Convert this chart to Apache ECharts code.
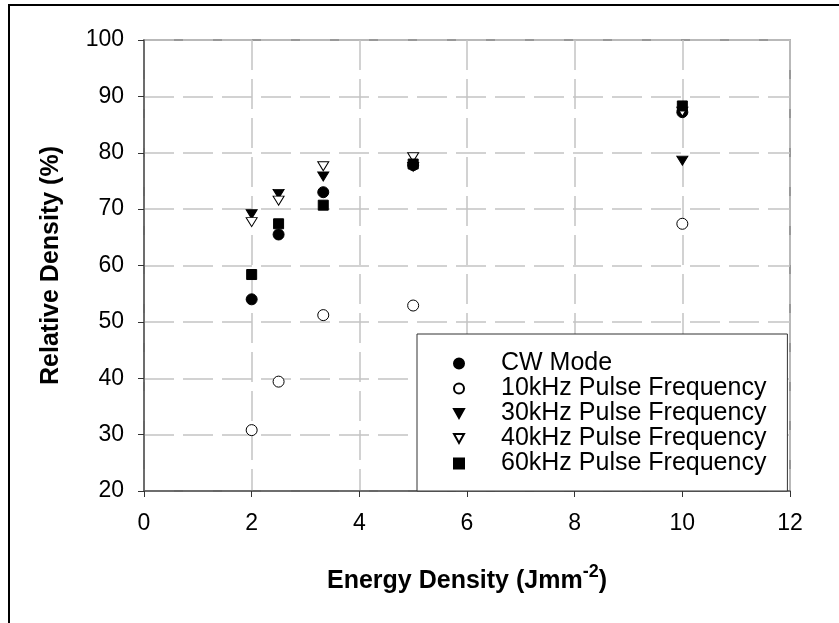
<!DOCTYPE html>
<html>
<head>
<meta charset="utf-8">
<script src="https://cdn.jsdelivr.net/npm/echarts@6/dist/echarts.min.js"></script>
<style>
  html, body { margin: 0; padding: 0; background: #fff; }
  #chart { width: 839px; height: 623px; }
</style>
</head>
<body>
<div id="chart"></div>
<script>
// energy density (x) and relative density (%) per mode
var energy = [2, 2.5, 3.33, 5, 10];
var cwMode = [54.0, 65.5, 73.0, 77.8, 87.2];
var f10 = [30.8, 39.4, 51.2, 52.9, 67.4];
var f30 = [69.1, 72.7, 75.8, 77.5, 78.6];
var f40 = [67.7, 71.5, 77.6, 79.2, 87.3];
var f60 = [58.4, 67.4, 70.7, 78.0, 88.3];
var names = ['CW Mode', '10kHz Pulse Frequency', '30kHz Pulse Frequency', '40kHz Pulse Frequency', '60kHz Pulse Frequency'];

var FONT = 'Liberation Sans, Arial, sans-serif';
var DOWN_TRI = 'path://M0,0 L10,0 L5,9 Z';

function pairs(ys) {
  return energy.map(function (x, i) { return [x, ys[i]]; });
}

function mk(name, ys, symbol, size, rot, filled) {
  return {
    name: name,
    type: 'scatter',
    data: pairs(ys),
    symbol: symbol,
    symbolSize: size,
    symbolRotate: rot,
    itemStyle: {
      color: filled ? '#000' : '#fff',
      borderColor: '#000',
      borderWidth: 1,
      opacity: 1
    }
  };
}

var chart = echarts.init(document.getElementById('chart'));
var option = {
  backgroundColor: '#fff',
  animation: false,
  grid: {
    left: 144, right: 49, top: 40, bottom: 132,
    show: true, borderColor: '#777', borderWidth: 1.5
  },
  graphic: [{
    type: 'rect',
    shape: { x: 9, y: 5, width: 1000, height: 1000 },
    style: { fill: null, stroke: '#000', lineWidth: 2 }
  }],
  xAxis: {
    type: 'value', min: 0, max: 12, interval: 2,
    name: '{b|Energy Density (Jmm}{sup|-2}{b|)}',
    nameLocation: 'middle', nameGap: 72,
    nameTextStyle: {
      rich: {
        b: { fontFamily: FONT, fontWeight: 'bold', fontSize: 25, lineHeight: 36, color: '#000' },
        sup: { fontFamily: FONT, fontWeight: 'bold', fontSize: 18, lineHeight: 14, verticalAlign: 'top', color: '#000' }
      }
    },
    axisLine: { lineStyle: { color: '#555', width: 1.5 } },
    axisTick: { show: true, length: 6, lineStyle: { color: '#333' } },
    axisLabel: { margin: 21, fontFamily: FONT, fontSize: 23, color: '#000' },
    splitLine: { lineStyle: { color: '#c4c4c4', type: [30, 9], width: 1.5 } }
  },
  yAxis: {
    type: 'value', min: 20, max: 100, interval: 10,
    name: 'Relative Density (%)',
    nameLocation: 'middle', nameGap: 80,
    nameTextStyle: { fontFamily: FONT, fontWeight: 'bold', fontSize: 25, color: '#000' },
    axisLine: { show: true, lineStyle: { color: '#555', width: 1.5 } },
    axisTick: { show: true, length: 6, lineStyle: { color: '#333' } },
    axisLabel: { margin: 20, fontFamily: FONT, fontSize: 23, color: '#000' },
    splitLine: { lineStyle: { color: '#c4c4c4', type: [30, 9], width: 1.5 } }
  },
  legend: {
    orient: 'vertical',
    left: 417, top: 334,
    padding: [17, 21, 15, 36],
    itemWidth: 10, itemHeight: 10, itemGap: 0,
    backgroundColor: '#fff',
    borderColor: '#333', borderWidth: 1,
    formatter: '{t|{name}}',
    textStyle: {
      fontFamily: FONT, fontSize: 25, lineHeight: 24.3, color: '#000',
      rich: { t: { fontFamily: FONT, fontSize: 25, lineHeight: 24.3, color: '#000', padding: [0, 0, 0, 32] } }
    },
    data: [
      { name: names[0] },
      { name: names[1] },
      { name: names[2], icon: DOWN_TRI },
      { name: names[3], icon: DOWN_TRI },
      { name: names[4] }
    ]
  },
  series: [
    mk(names[0], cwMode, 'circle', 11, 0, true),
    mk(names[1], f10, 'circle', 11, 0, false),
    mk(names[2], f30, 'triangle', [11, 9], 180, true),
    mk(names[3], f40, 'triangle', [11, 9], 180, false),
    mk(names[4], f60, 'rect', 10, 0, true)
  ]
};
chart.setOption(option);
</script>
</body>
</html>
